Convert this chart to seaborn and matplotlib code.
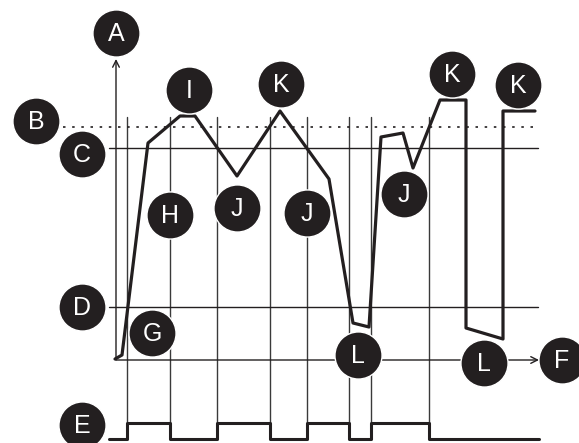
import matplotlib
matplotlib.use("Agg")
import matplotlib.pyplot as plt
import seaborn as sns
import pandas as pd

sns.set_theme(style="white")
plt.rcParams['font.family'] = ['Liberation Sans', 'DejaVu Sans']

# Main signal curve (diagram units = pixels, y downward)
curve_x = [115, 122, 148, 180, 195, 237, 280, 329, 353, 369, 381, 403, 413, 440, 466, 466, 503, 503, 535]
curve_y = [359, 355, 143, 116, 116, 176, 111, 179, 323, 327, 137, 133, 168, 100, 100, 328, 339, 111, 111]

# Square wave (E)
wave_x = [109, 127, 127, 170, 170, 217, 217, 270, 270, 307, 307, 349, 349, 371, 371, 429, 429, 539]
wave_y = [439, 439, 423, 423, 439, 439, 423, 423, 439, 439, 423, 423, 439, 439, 423, 423, 439, 439]

# Vertical time divisions
grid_x = [127, 170, 217, 270, 307, 349, 371, 429]

# Horizontal reference levels
level_c = 148
level_d = 307
level_b = 127

# Labels
labels = ["A", "B", "C", "I", "K", "H", "J", "J", "J", "K", "K", "D", "G", "E", "L", "L", "F"]
label_x = [116, 36, 82, 189, 281, 170, 237, 307, 404, 452, 518, 82, 152, 82, 358, 484, 562]
label_y = [33, 121, 154, 90, 84, 215, 208, 213, 194, 74, 85, 307, 333, 425, 355, 363, 360]

fig = plt.figure(figsize=(5.79, 4.43), dpi=100)
ax = fig.add_axes([0, 0, 1, 1])
ax.set_xlim(0, 579)
ax.set_ylim(443, 0)
ax.axis("off")

ink = "#231f20"
gridc = "#3a3a3a"

for gx in grid_x:
    ax.plot([gx, gx], [117, 439], color=gridc, lw=1.0, zorder=1)

ax.plot([109, 538], [level_c, level_c], color=ink, lw=1.0, zorder=1)
ax.plot([109, 538], [level_d, level_d], color=ink, lw=1.0, zorder=1)
ax.plot([63, 535], [level_b, level_b], color=ink, lw=1.2, ls=(0, (1.5, 4)), zorder=1)

# axes with open arrows
ax.annotate("", xy=(116, 59), xytext=(116, 360),
            arrowprops=dict(arrowstyle="->", color=ink, lw=1.0, mutation_scale=12, shrinkA=0, shrinkB=0))
ax.annotate("", xy=(539, 360), xytext=(116, 360),
            arrowprops=dict(arrowstyle="->", color=ink, lw=1.0, mutation_scale=12, shrinkA=0, shrinkB=0))

df_curve = pd.DataFrame({"x": curve_x, "y": curve_y})
sns.lineplot(data=df_curve, x="x", y="y", sort=False, estimator=None, color=ink, lw=2.3, ax=ax, zorder=3)

df_wave = pd.DataFrame({"x": wave_x, "y": wave_y})
sns.lineplot(data=df_wave, x="x", y="y", sort=False, estimator=None, color=ink, lw=2.2, ax=ax, zorder=3)

df_lab = pd.DataFrame({"x": label_x, "y": label_y, "t": labels})
sns.scatterplot(data=df_lab, x="x", y="y", s=1150, color=ink, edgecolor="white", linewidth=1.0, ax=ax, zorder=5)
for t, x, y in zip(labels, label_x, label_y):
    ax.text(x, y + 1, t, color="white", fontsize=18, ha="center", va="center", zorder=6)

ax.set_xlim(0, 579)
ax.set_ylim(443, 0)
ax.axis("off")
fig.savefig("out.png", dpi=100)
